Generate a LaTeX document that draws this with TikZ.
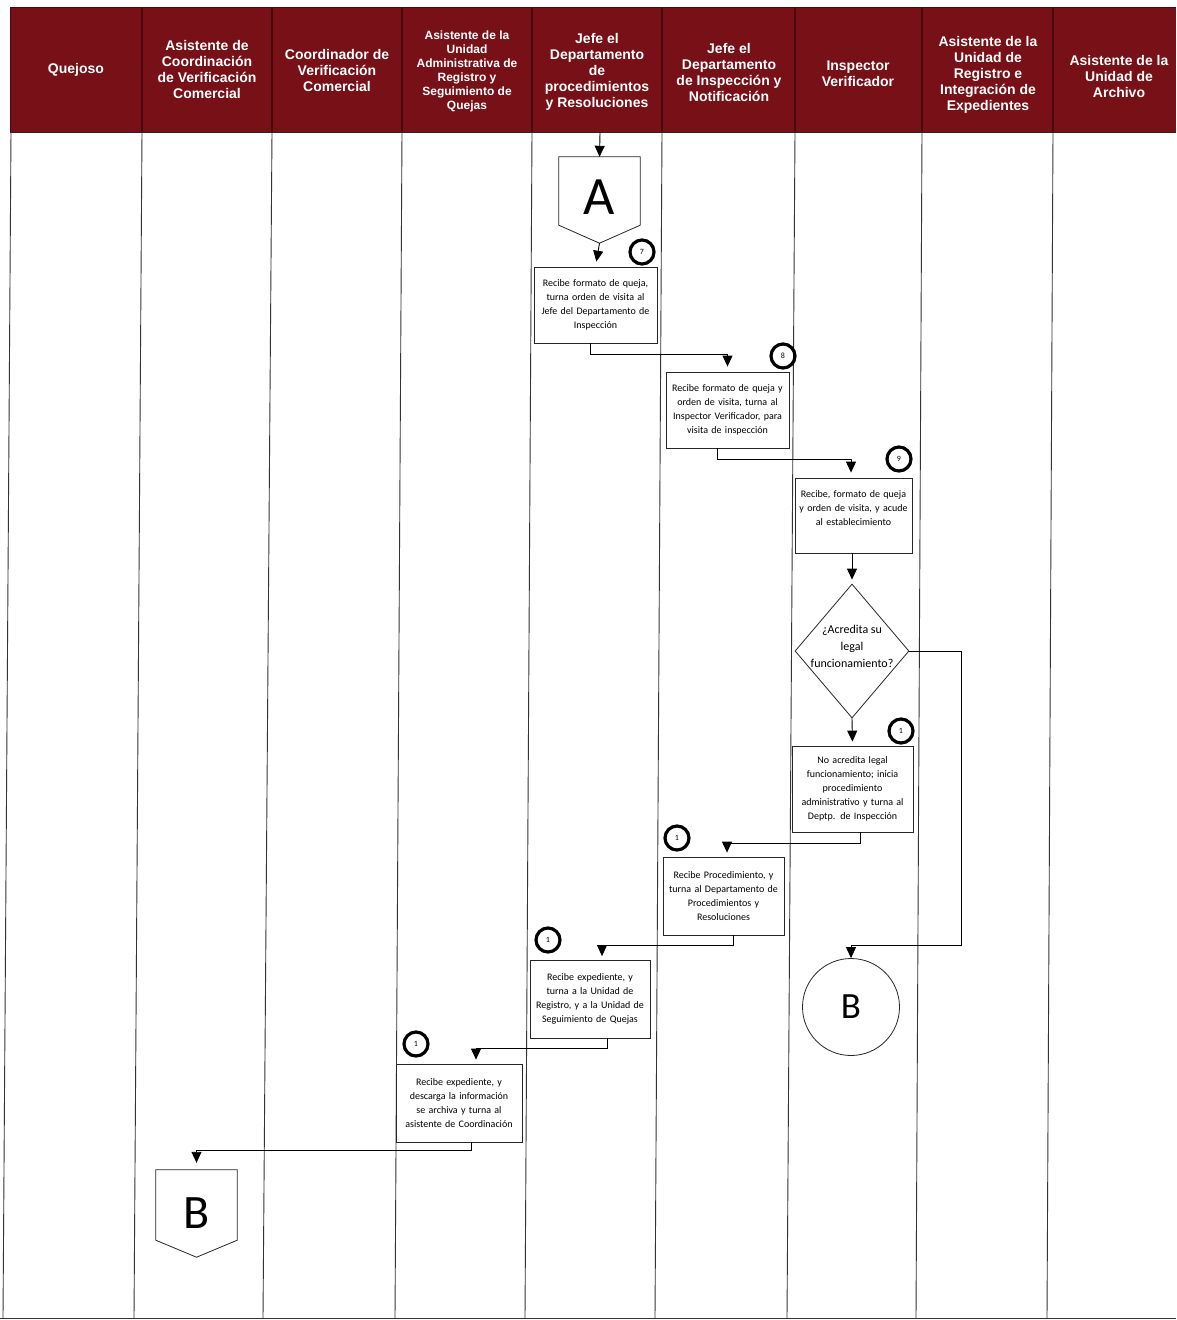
\documentclass[tikz,border=0pt]{standalone}
\usepackage{fontspec}
\setmainfont{Carlito}
\newfontfamily\hdrfont{Liberation Sans}
\usetikzlibrary{arrows.meta,shapes.geometric,calc}
\definecolor{hdr}{RGB}{120,17,23}
\definecolor{hdrline}{RGB}{75,8,12}
\begin{document}
\begin{tikzpicture}[x=1pt,y=-1pt,
  lane/.style={draw=black!80, line width=0.9pt},
  hdrtxt/.style={text=white, font=\hdrfont\bfseries\fontsize{14}{16}\selectfont, align=center},
  hdrsmall/.style={text=white, font=\hdrfont\bfseries\fontsize{12}{14}\selectfont, align=center},
  procbox/.style={draw=black!85, line width=0.8pt, rectangle, inner sep=1pt, align=center, font=\fontsize{10}{14}\selectfont},
  numc/.style={circle, draw, line width=3.2pt, minimum size=24pt, inner sep=0pt, font=\fontsize{8}{8}\selectfont},
  arr/.style={line width=0.9pt, -{Triangle[width=10pt,length=11pt]}},
  shapeline/.style={draw=black!85, line width=0.8pt},
]
\useasboundingbox (0,0) rectangle (1176,1320);

% header band
\fill[hdr] (10,7) rectangle (1176,132);
\draw[hdrline, line width=1pt] (10,7) -- (1176,7);
\draw[hdrline, line width=1pt] (10,7) -- (10,132);
\foreach \x in {142,272,402,532,662,795,922,1053}
  \draw[hdrline, line width=1.2pt] (\x,7) -- (\x,132);
\draw[black!85, line width=1pt] (10,132) -- (1176,132);

% swimlane lines (slightly skewed as in the scan)
\foreach \t/\b in {11/3,142/134,272/263,402/395,532/525,662/655,795/787,922/916,1053/1047}
  \draw[lane] (\t,132) -- (\b,1318);
\draw[lane] (0,1318) -- (1176,1318);

% header texts
\node[hdrtxt] (h1) at (76,70) {Quejoso};
\node[hdrtxt] (h2) at (207,69) {Asistente de\\Coordinación\\de Verificación\\Comercial};
\node[hdrtxt] (h3) at (337,70) {Coordinador de\\Verificación\\Comercial};
\node[hdrsmall] (h4) at (467,71) {Asistente de la\\Unidad\\Administrativa de\\Registro y\\Seguimiento de\\Quejas};
\node[hdrtxt] (h5) at (597,72) {Jefe el\\Departamento\\de\\procedimientos\\y Resoluciones};
\node[hdrtxt] (h6) at (729,72) {Jefe el\\Departamento\\de Inspección y\\Notificación};
\node[hdrtxt] (h7) at (858,74) {Inspector\\Verificador};
\node[hdrtxt] (h8) at (988,75) {Asistente de la\\Unidad de\\Registro e\\Integración de\\Expedientes};
\node[hdrtxt] (h9) at (1119,76) {Asistente de la\\Unidad de\\Archivo};

% off-page connector A
\coordinate (Astart) at (600,133);
\node[minimum width=81pt, minimum height=68pt, inner sep=0pt, text height=47pt, text depth=0pt,
      font=\fontsize{54}{54}\selectfont] (A) at (599.5,191) {A};
\draw[shapeline] (A.north west) -- (A.north east) -- (A.south east)
  -- ($(A.south)+(0,18)$) coordinate (Atip) -- (A.south west) -- cycle;
\draw[arr] (Astart) -- (A.north);

% process boxes
\node[procbox, minimum width=123pt, minimum height=76pt, text width=121pt] (b1) at (595.5,305)
  {Recibe formato de queja,\\turna orden de visita al\\Jefe del Departamento de\\Inspección};
\node[procbox, minimum width=123pt, minimum height=76pt, text width=121pt] (b2) at (727.5,410)
  {Recibe formato de queja y\\orden de visita, turna al\\Inspector Verificador, para\\visita de inspección};
\node[procbox, minimum width=117pt, minimum height=75pt, text width=115pt] (b3) at (853.5,515.5)
  {Recibe, formato de queja\\y orden de visita, y acude\\al establecimiento\\\mbox{}};
\node[draw=black!85, line width=0.8pt, diamond, minimum width=114pt, minimum height=134pt, inner sep=0pt] (dec) at (852,651) {};
\node[font=\fontsize{12}{17}\selectfont, align=center] (dect) at (852,646) {¿Acredita su\\legal\\funcionamiento?};
\node[procbox, minimum width=121pt, minimum height=86pt, text width=119pt] (b4) at (852.5,789)
  {No acredita legal\\funcionamiento; inicia\\procedimiento\\administrativo y turna al\\Deptp. de Inspección};
\node[procbox, minimum width=121pt, minimum height=78pt, text width=119pt] (b5) at (723.5,896)
  {Recibe Procedimiento, y\\turna al Departamento de\\Procedimientos y\\Resoluciones};
\node[procbox, minimum width=120pt, minimum height=78pt, text width=118pt] (b6) at (590,999)
  {Recibe expediente, y\\turna a la Unidad de\\Registro, y a la Unidad de\\Seguimiento de Quejas};
\node[procbox, minimum width=126pt, minimum height=78pt, text width=124pt] (b7) at (459,1103)
  {Recibe expediente, y\\descarga la información\\se archiva y turna al\\asistente de Coordinación};

% connector B (circle)
\node[circle, draw=black!85, line width=0.8pt, minimum size=97pt, inner sep=0pt, font=\fontsize{37}{37}\selectfont] (cB) at (851,1007) {B};

% off-page connector B
\node[minimum width=81pt, minimum height=70pt, inner sep=0pt, text height=46pt, text depth=0pt,
      font=\fontsize{48}{48}\selectfont] (Bp) at (196.5,1205) {B};
\draw[shapeline] (Bp.north west) -- (Bp.north east) -- (Bp.south east)
  -- ($(Bp.south)+(0,17)$) -- (Bp.south west) -- cycle;

% step numbers
\node[numc] (n7) at (642,252) {7};
\node[numc] (n8) at (783,356) {8};
\node[numc] (n9) at (899,459) {9};
\node[numc] (n10) at (901,731) {1};
\node[numc] (n11) at (677,838) {1};
\node[numc] (n12) at (548,940) {1};
\node[numc] (n13) at (416,1044) {1};

% connectors
\draw[arr, shorten >=5pt] (Atip) -- (b1.north);
\draw[arr, shorten >=5pt] ([xshift=-5.5pt]b1.south) -- ++(0,11) -| (b2.north);
\draw[arr, shorten >=5pt] ([xshift=-10.5pt]b2.south) -- ++(0,11) -| ([xshift=-2.5pt]b3.north);
\draw[arr, shorten >=4pt] ([xshift=-1.5pt]b3.south) -- (dec.north);
\draw[arr, shorten >=4pt] (dec.south) -- (b4.north);
\draw[arr] (dec.east) -| ($(cB.north)+(110,-13)$) -| (cB.north);
\draw[arr, shorten >=4pt] ([xshift=7.5pt]b4.south) -- ++(0,11) -| ([xshift=3.5pt]b5.north);
\draw[arr, shorten >=3.5pt] ([xshift=9.5pt]b5.south) -- ++(0,10) -| ([xshift=12pt]b6.north);
\draw[arr, shorten >=4pt] ([xshift=17pt]b6.south) -- ++(0,10) -| ([xshift=17pt]b7.north);
\draw[arr, shorten >=7pt] ([xshift=12pt]b7.south) -- ++(0,8) -| (Bp.north);
\end{tikzpicture}
\end{document}
